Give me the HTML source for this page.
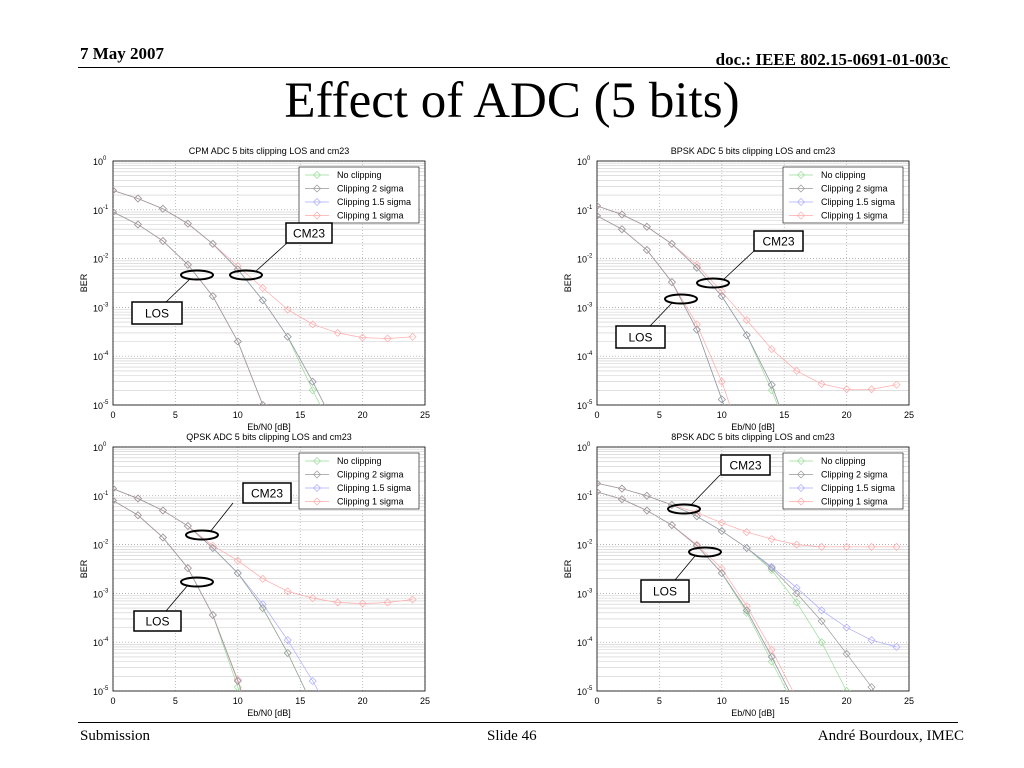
<!DOCTYPE html>
<html><head><meta charset="utf-8"><style>
body{margin:0;background:#fff;width:1024px;height:768px;overflow:hidden;position:relative;font-family:"Liberation Serif",serif}
.t{position:absolute;white-space:nowrap}
</style></head><body>
<div class="t" style="left:80px;top:44px;font-size:17px;font-weight:bold">7 May 2007</div>
<div class="t" style="right:76px;top:50px;font-size:17px;font-weight:bold">doc.: IEEE 802.15-0691-01-003c</div>
<div style="position:absolute;left:78px;top:67px;width:872px;height:1px;background:#000"></div>
<div class="t" style="left:0;width:1024px;text-align:center;top:72px;font-size:51px">Effect of ADC (5 bits)</div>
<div style="position:absolute;left:78px;top:722px;width:880px;height:1px;background:#000"></div>
<div class="t" style="left:80px;top:728px;font-size:15px">Submission</div>
<div class="t" style="left:487px;top:728px;font-size:15px">Slide 46</div>
<div class="t" style="right:60px;top:728px;font-size:15px">André Bourdoux, IMEC</div>
<svg id="s" width="1024" height="768" style="position:absolute;left:0;top:0" font-family="Liberation Sans, sans-serif"></svg>
<script>
const xs = [0,2,4,6,8,10,12,14,16,18,20,22,24];
const xTicks = [0,5,10,15,20,25];
const yExps = [0,-1,-2,-3,-4,-5];
const legendLabels = ["No clipping","Clipping 2 sigma","Clipping 1.5 sigma","Clipping 1 sigma"];
const titles = ["CPM ADC 5 bits clipping LOS and cm23","BPSK ADC 5 bits clipping LOS and cm23","QPSK ADC 5 bits clipping LOS and cm23","8PSK ADC 5 bits clipping LOS and cm23"];
// order per chart: green, gray, blue, red
const cpmLos = [[0.09,0.05,0.023,0.0075,0.0017,0.0002,0.00001],[0.09,0.05,0.023,0.0075,0.0017,0.0002,0.00001],[0.09,0.05,0.023,0.0075,0.0017,0.0002,0.00001],[0.09,0.05,0.023,0.0075,0.0017,0.0002,0.00001]];
const cpmCm = [[0.25,0.17,0.105,0.052,0.02,0.006,0.0014,0.00025,0.00002,0.000002],[0.25,0.17,0.105,0.052,0.02,0.006,0.0014,0.00025,0.00003,0.000003],[0.25,0.17,0.105,0.052,0.02,0.006,0.0014,0.00025,0.00003,0.000003],[0.25,0.17,0.105,0.052,0.02,0.007,0.0025,0.0009,0.00045,0.0003,0.00024,0.00023,0.00025]];
const bpskLos = [[0.075,0.04,0.015,0.0033,0.00035,0.000013,0.0000005],[0.075,0.04,0.015,0.0033,0.00035,0.000013,0.0000005],[0.075,0.04,0.015,0.0033,0.00035,0.000013,0.0000005],[0.075,0.04,0.015,0.0033,0.00045,0.00003,0.000001]];
const bpskCm = [[0.12,0.08,0.045,0.02,0.0065,0.0017,0.00027,0.00002,0.000001],[0.12,0.08,0.045,0.02,0.0065,0.0017,0.00027,0.000026,0.000001],[0.12,0.08,0.045,0.02,0.0065,0.0017,0.00027,0.000026,0.000001],[0.12,0.08,0.045,0.02,0.0075,0.0021,0.00055,0.00014,0.00005,0.000027,0.000021,0.000021,0.000026]];
const qpskLos = [[0.08,0.04,0.014,0.0033,0.00036,0.000012,0.0000005],[0.08,0.04,0.014,0.0033,0.00036,0.000016,0.0000005],[0.08,0.04,0.014,0.0033,0.00036,0.000016,0.0000005],[0.08,0.04,0.014,0.0033,0.00036,0.000017,0.0000005]];
const qpskCm = [[0.14,0.088,0.05,0.024,0.0085,0.0026,0.0005,0.00006,0.000005],[0.14,0.088,0.05,0.024,0.0085,0.0026,0.0005,0.00006,0.000005],[0.14,0.088,0.05,0.024,0.0085,0.0026,0.0006,0.00011,0.000016,0.000002],[0.14,0.088,0.05,0.024,0.0095,0.0047,0.002,0.0011,0.0008,0.00065,0.00062,0.00065,0.00075]];
const psk8Los = [[0.12,0.085,0.05,0.025,0.0095,0.0026,0.0004,0.00004,0.000004],[0.12,0.085,0.05,0.025,0.0095,0.0026,0.00045,0.00005,0.000005],[0.12,0.085,0.05,0.025,0.0095,0.0026,0.00045,0.00005,0.000005],[0.12,0.085,0.05,0.025,0.01,0.0032,0.00055,0.00007,0.000007]];
const psk8Cm = [[0.18,0.14,0.1,0.065,0.038,0.019,0.0085,0.003,0.00065,0.0001,0.00001,0.000001],[0.18,0.14,0.1,0.065,0.038,0.019,0.0085,0.0033,0.001,0.00027,0.000058,0.000012,0.000002],[0.18,0.14,0.1,0.065,0.038,0.019,0.0085,0.0035,0.0013,0.00045,0.0002,0.00011,0.00008],[0.18,0.14,0.1,0.065,0.045,0.028,0.018,0.013,0.01,0.009,0.009,0.009,0.009]];
const allData = [[cpmLos,cpmCm],[bpskLos,bpskCm],[qpskLos,qpskCm],[psk8Los,psk8Cm]];
const colors = ["#9d9","#999","#aaf","#faa"];
const frames = [{x0:113,x1:425,y0:161,y1:405},{x0:597,x1:909,y0:161,y1:405},{x0:113,x1:425,y0:447,y1:691},{x0:597,x1:909,y0:447,y1:691}];
const annots = [
 {cm:[286,223,46,20],cmL:[287,243,255,272],cmE:[246,275],los:[132,302,50,22],losL:[166,302,190,279],losE:[197,275]},
 {cm:[754,231,49,20],cmL:[754,251,723,280],cmE:[713,283],los:[616,326,49,22],losL:[650,326,672,303],losE:[681,299]},
 {cm:[243,483,48,20],cmL:[233,503,210,532],cmE:[202,535],los:[134,611,47,20],losL:[166,611,188,585],losE:[197,582]},
 {cm:[721,455,49,20],cmL:[720,475,691,505],cmE:[684,509],los:[641,580,48,22],losL:[675,580,695,556],losE:[705,552]}];
const svg=document.getElementById('s');
const NS='http://www.w3.org/2000/svg';
function mk(tag,at,parent){const e=document.createElementNS(NS,tag);for(const k in at)e.setAttribute(k,at[k]);(parent||svg).appendChild(e);return e;}
frames.forEach((f,ci)=>{
  const g=mk('g',{});
  
  
  const sx=v=>f.x0+(f.x1-f.x0)*v/25;
  const sy=v=>f.y0+(f.y1-f.y0)*(-Math.log10(v))/5;
  mk('rect',{x:f.x0,y:f.y0,width:f.x1-f.x0,height:f.y1-f.y0,fill:'#fff'},g);
  for(let d=0;d<5;d++)for(let m=2;m<10;m++){const y=sy(m*Math.pow(10,-d-1));mk('line',{x1:f.x0,x2:f.x1,y1:y,y2:y,stroke:'#ccc','stroke-width':0.6},g);}
  yExps.forEach(e=>{const y=sy(Math.pow(10,e));mk('line',{x1:f.x0,x2:f.x1,y1:y,y2:y,stroke:'#999','stroke-width':0.7,'stroke-dasharray':'1,2'},g);
    const t=mk('text',{x:f.x0-20,y:y+4,'font-size':9},g);t.textContent='10';
    const s=mk('tspan',{dy:-5,'font-size':6},t);s.textContent=String(e);});
  xTicks.forEach(v=>{const x=sx(v);mk('line',{x1:x,x2:x,y1:f.y0,y2:f.y1,stroke:'#aaa','stroke-width':0.7,'stroke-dasharray':'1,2'},g);
    const t=mk('text',{x:x,y:f.y1+13,'font-size':9,'text-anchor':'middle'},g);t.textContent=v;});
  mk('rect',{x:f.x0,y:f.y0,width:f.x1-f.x0,height:f.y1-f.y0,fill:'none',stroke:'#000','stroke-width':0.8},g);
  const tt=mk('text',{x:(f.x0+f.x1)/2,y:f.y0-7,'font-size':9,'text-anchor':'middle'},g);tt.textContent=titles[ci];
  const xl=mk('text',{x:(f.x0+f.x1)/2,y:f.y1+25,'font-size':9,'text-anchor':'middle'},g);xl.textContent='Eb/N0 [dB]';
  const yl=mk('text',{x:f.x0-26,y:(f.y0+f.y1)/2,'font-size':9,'text-anchor':'middle',transform:`rotate(-90 ${f.x0-26} ${(f.y0+f.y1)/2})`},g);yl.textContent='BER';
  const cp=mk('clipPath',{id:'cp'+ci},g);mk('rect',{x:f.x0,y:f.y0,width:f.x1-f.x0,height:f.y1-f.y0},cp);
  const pg=mk('g',{'clip-path':`url(#cp${ci})`},g);
  allData[ci].forEach(group=>{ [0,2,3,1].forEach(si=>{ const vals=group[si];
    const pts=vals.map((v,i)=>sx(xs[i]).toFixed(1)+','+sy(v).toFixed(1)).join(' ');
    const pl=mk('polyline',{points:pts,fill:'none',stroke:colors[si],'stroke-width':0.7},pg);
    
    
    vals.forEach((v,i)=>{const x=sx(xs[i]),y=sy(v);mk('polygon',{points:`${x},${y-3.5} ${x+3.5},${y} ${x},${y+3.5} ${x-3.5},${y}`,fill:'none',stroke:colors[si],'stroke-width':0.7},pg);});
  });});
  const lx=f.x0+186,ly=f.y0+6;
  const lg=mk('g',{},g);
  
  
  mk('rect',{x:lx,y:ly,width:120,height:56,fill:'#fff',stroke:'#000','stroke-width':0.6},lg);
  legendLabels.forEach((l,i)=>{const y=ly+8+i*13.5;mk('line',{x1:lx+6,x2:lx+30,y1:y,y2:y,stroke:colors[i],'stroke-width':0.7},lg);
    mk('polygon',{points:`${lx+18},${y-3.5} ${lx+21.5},${y} ${lx+18},${y+3.5} ${lx+14.5},${y}`,fill:'none',stroke:colors[i],'stroke-width':0.7},lg);
    const t=mk('text',{x:lx+38,y:y+3,'font-size':9},lg);t.textContent=l;});
  const a=annots[ci];
  [['cm','CM23'],['los','LOS']].forEach(([k,txt])=>{
    const L=a[k+'L'],E=a[k+'E'],B=a[k];
    mk('line',{x1:L[0],y1:L[1],x2:L[2],y2:L[3],stroke:'#000','stroke-width':0.8});
    mk('ellipse',{cx:E[0],cy:E[1],rx:16,ry:4.5,fill:'none',stroke:'#000','stroke-width':2});
    mk('rect',{x:B[0],y:B[1],width:B[2],height:B[3],fill:'#fff',stroke:'#000','stroke-width':1.5});
    const t=mk('text',{x:B[0]+B[2]/2,y:B[1]+B[3]/2+4.5,'font-size':12,'text-anchor':'middle'});t.textContent=txt;
    
    
  });
});
</script>
</body></html>
